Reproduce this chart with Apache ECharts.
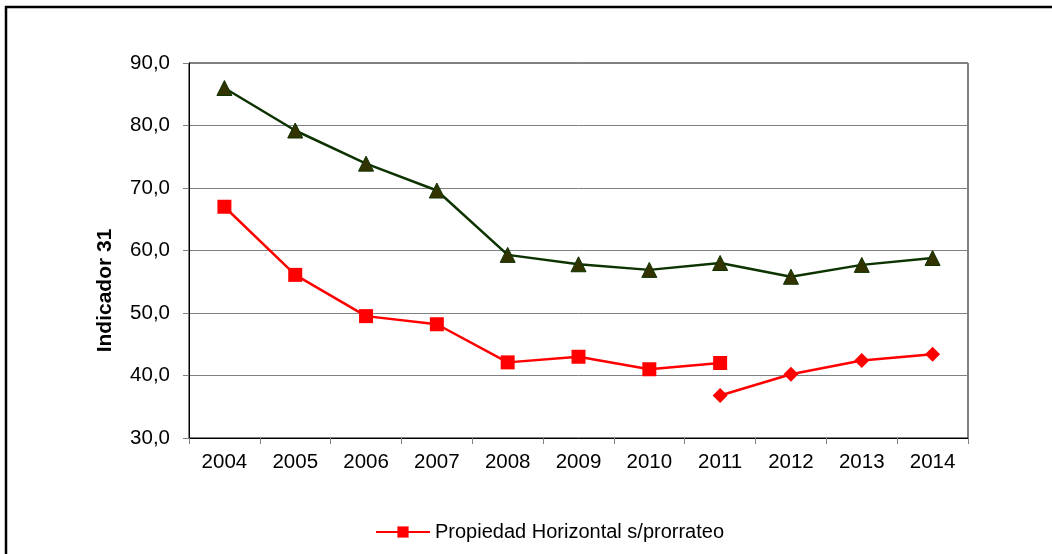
<!DOCTYPE html>
<html>
<head>
<meta charset="utf-8">
<script src="https://cdn.jsdelivr.net/npm/echarts@6/dist/echarts.min.js"></script>
<style>
  html, body { margin: 0; padding: 0; background: #fff; }
  #chart { width: 1052px; height: 554px; }
</style>
</head>
<body>
<div id="chart"></div>
<script>
// Years on the category axis
const years = ['2004', '2005', '2006', '2007', '2008', '2009', '2010', '2011', '2012', '2013', '2014'];

// Upper series (triangles)
const upperValues = [86.0, 79.2, 73.9, 69.6, 59.3, 57.8, 56.9, 58.0, 55.8, 57.7, 58.8];

// Propiedad Horizontal s/prorrateo, 2004-2011 (squares)
const phValues = [67.0, 56.1, 49.5, 48.2, 42.1, 43.0, 41.0, 42.0, null, null, null];

// Second red segment, 2011-2014 (diamonds)
const phLaterValues = [null, null, null, null, null, null, null, 36.8, 40.2, 42.4, 43.4];

const yMin = 30, yMax = 90, yStep = 10;

const font = 'Liberation Sans, Arial, sans-serif';
const chart = echarts.init(document.getElementById('chart'), null, { renderer: 'canvas' });

chart.setOption({
  backgroundColor: '#fff',
  animation: false,
  graphic: [{
    type: 'rect',
    x: 0, y: 0,
    shape: { x: 6, y: 7, width: 1100, height: 600 },
    style: { fill: 'none', stroke: '#000', lineWidth: 2.5 },
    silent: true
  }],
  grid: {
    left: 189, top: 63, width: 779, height: 375,
    show: true, borderColor: '#000', borderWidth: 1, backgroundColor: 'transparent'
  },
  legend: {
    data: ['Propiedad Horizontal s/prorrateo'],
    top: 517, left: 370,
    itemWidth: 54, itemHeight: 14, itemGap: 10,
    textStyle: { fontFamily: font, fontSize: 20, color: '#000' }
  },
  xAxis: {
    type: 'category',
    data: years,
    boundaryGap: true,
    axisLine: { lineStyle: { color: '#000', width: 1 } },
    axisTick: { show: true, interval: 0, length: 6, inside: false, lineStyle: { color: '#808080' } },
    axisLabel: { fontFamily: font, fontSize: 20.5, color: '#000', margin: 14, interval: 0 },
    splitLine: { show: false }
  },
  yAxis: {
    type: 'value',
    min: yMin, max: yMax, interval: yStep,
    name: 'Indicador 31',
    nameLocation: 'middle',
    nameGap: 73,
    nameRotate: 90,
    nameTextStyle: {
      fontFamily: font, fontSize: 21, fontWeight: 'bold', color: '#000',
      padding: [0, 80, 0, 0]
    },
    axisLine: { show: true, lineStyle: { color: '#000', width: 1 } },
    axisTick: { show: true, length: 6, lineStyle: { color: '#808080' } },
    axisLabel: {
      fontFamily: font, fontSize: 20.5, color: '#000', margin: 19,
      formatter: v => v.toFixed(1).replace('.', ',')
    },
    splitLine: { show: true, lineStyle: { color: '#808080', width: 1 } }
  },
  series: [
    {
      name: 'Indicador',
      type: 'line',
      data: upperValues,
      symbol: 'triangle',
      symbolSize: 15,
      lineStyle: { color: '#0d3300', width: 2.5 },
      itemStyle: { color: '#333300', borderColor: '#0d3300', borderWidth: 1 },
      z: 3
    },
    {
      name: 'Propiedad Horizontal s/prorrateo',
      type: 'line',
      data: phValues,
      symbol: 'rect',
      symbolSize: 14,
      connectNulls: false,
      lineStyle: { color: '#ff0000', width: 2.5 },
      itemStyle: { color: '#ff0000' },
      z: 3
    },
    {
      name: 'Propiedad Horizontal s/prorrateo (2011-2014)',
      type: 'line',
      data: phLaterValues,
      symbol: 'diamond',
      symbolSize: 15,
      connectNulls: false,
      lineStyle: { color: '#ff0000', width: 2.5 },
      itemStyle: { color: '#ff0000' },
      z: 3
    }
  ]
});
</script>
</body>
</html>
